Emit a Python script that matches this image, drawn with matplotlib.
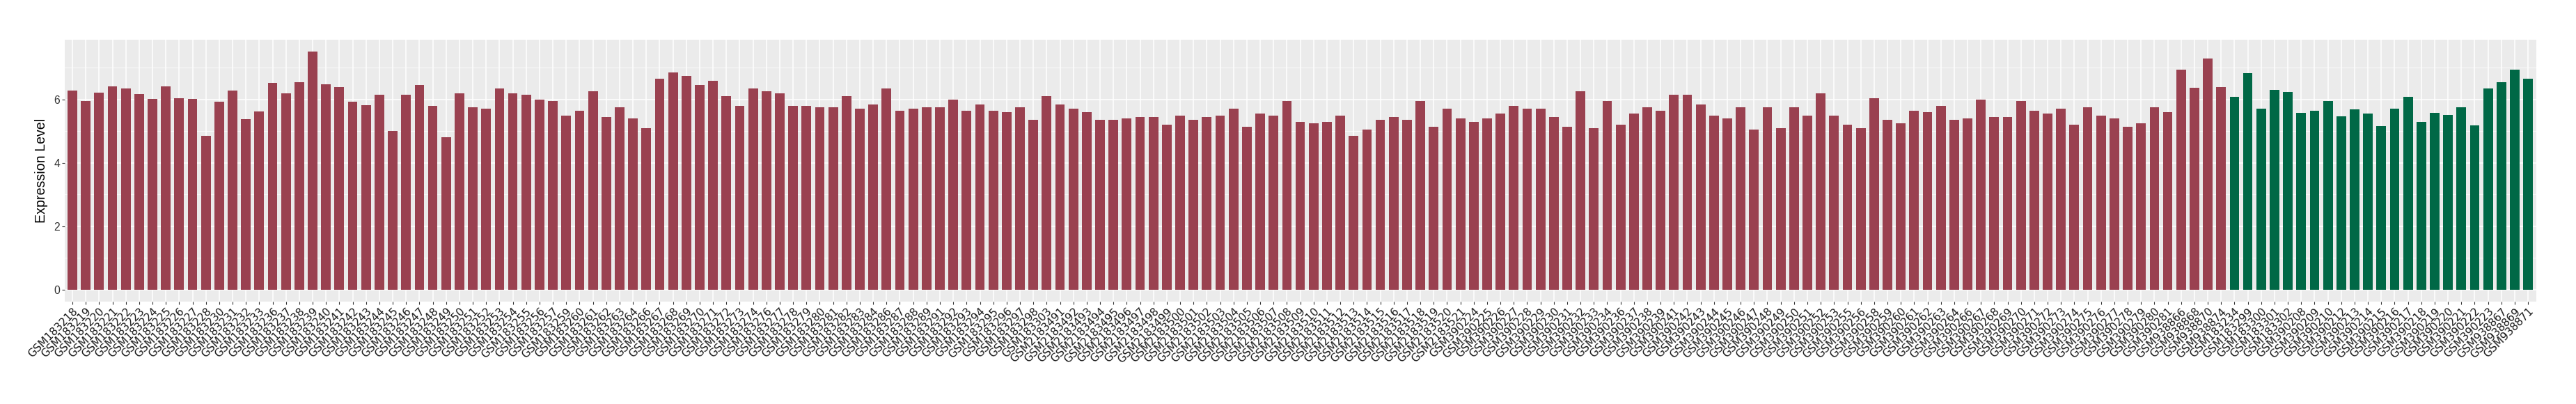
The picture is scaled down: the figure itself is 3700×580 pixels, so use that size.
import matplotlib
matplotlib.use("Agg")
import matplotlib.pyplot as plt
import numpy as np

# sample ids, sorted within each group
red_ids = (
    ["GSM1832%02d" % n for n in [18, 19, 20, 21, 22, 23, 24, 25, 26, 27, 28, 30, 31, 32, 33,
                                  36, 37, 38, 39, 40, 41, 42, 43, 44, 45, 46, 47, 48, 49, 50,
                                  51, 52, 53, 54, 55, 56, 57, 59, 60, 61, 62, 63, 64, 66, 67,
                                  68, 69, 70, 71, 72, 73, 74, 76, 77, 78, 79, 80, 81, 82, 83,
                                  84, 86, 87, 88, 89, 91, 92, 93, 94, 95, 96, 97, 98]]
    + ["GSM183303"]
    + ["GSM2183%d" % n for n in range(491, 522)]
    + ["GSM390%d" % n for n in [224, 225, 226, 227, 228, 229, 230, 231, 232, 233, 234, 236,
                                 237, 238, 239, 241, 242, 243, 244, 245, 246, 247, 248, 249,
                                 250, 251, 252, 253, 255, 256, 258, 259, 260, 261, 262, 263,
                                 264, 266, 267, 268, 269, 270, 271, 272, 273, 274, 275, 276,
                                 277, 278, 279, 280, 281]]
    + ["GSM938866", "GSM938868", "GSM938870", "GSM938874"]
)
green_ids = (
    ["GSM183234", "GSM183299", "GSM183300", "GSM183301", "GSM183302"]
    + ["GSM390%d" % n for n in [208, 209, 210, 212, 213, 214, 215, 216, 217, 218, 219, 220,
                                 221, 222, 223]]
    + ["GSM938867", "GSM938869", "GSM938871"]
)

red_values = [
    # GSM183218 .. GSM183303
    6.28, 5.95, 6.21, 6.41, 6.35, 6.17, 6.01, 6.41, 6.04, 6.01, 4.85, 5.93, 6.28, 5.38, 5.62,
    6.52, 6.19, 6.54, 7.51, 6.48, 6.39, 5.93, 5.82, 6.14, 5.01, 6.14, 6.45,
    5.80, 4.80, 6.20, 5.75, 5.70, 6.35, 6.20, 6.15, 6.00, 5.95,
    5.50, 5.65, 6.25, 5.45, 5.75, 5.40,
    5.10, 6.65, 6.85, 6.75, 6.45, 6.60, 6.10, 5.80, 6.35,
    6.25, 6.20, 5.80, 5.80, 5.75, 5.75, 6.10, 5.70, 5.85,
    6.35, 5.65, 5.70, 5.75,
    5.75, 6.00, 5.65, 5.85, 5.65, 5.60, 5.75, 5.35,
    6.10,
    # GSM2183491 .. GSM2183521
    5.85, 5.70, 5.60, 5.35, 5.35, 5.40, 5.45, 5.45, 5.20, 5.50, 5.35, 5.45, 5.50, 5.70, 5.15,
    5.55, 5.50, 5.95, 5.30, 5.25, 5.30, 5.50, 4.85, 5.05, 5.35, 5.45, 5.35, 5.95, 5.15, 5.70,
    5.40,
    # GSM390224 .. GSM390281
    5.30, 5.40, 5.55, 5.80, 5.70, 5.70, 5.45, 5.15, 6.25, 5.10, 5.95, 5.20, 5.55, 5.75, 5.65,
    6.15, 6.15, 5.85, 5.50, 5.40, 5.75, 5.05, 5.75, 5.10, 5.75, 5.50, 6.20, 5.50, 5.20, 5.10,
    6.05, 5.35, 5.25, 5.65, 5.60, 5.80, 5.35, 5.40, 6.00, 5.45, 5.45, 5.95, 5.65, 5.55, 5.70,
    5.20, 5.75, 5.50, 5.40, 5.15, 5.25, 5.75, 5.60,
    # GSM938866 .. GSM938874
    6.95, 6.37, 7.29, 6.39,
]
green_values = [
    6.08, 6.83, 5.71, 6.30, 6.24,
    5.58, 5.64, 5.95, 5.47, 5.69, 5.55, 5.16, 5.71, 6.08, 5.29, 5.58, 5.51, 5.76, 5.18, 6.35,
    6.54, 6.94, 6.66,
]

red_color = "#9A4150"
green_color = "#006846"

labels = red_ids + green_ids
values = red_values + green_values
colors = [red_color] * len(red_values) + [green_color] * len(green_values)
x = np.arange(len(labels))

fig = plt.figure(figsize=(37, 5.8), dpi=100)
ax = fig.add_axes([0.025, 0.2534, 0.9595, 0.6483])
ax.set_facecolor("#EBEBEB")

ax.bar(x, values, width=0.72, color=colors, zorder=3)

ax.set_xlim(-0.6, len(labels) - 0.4)
ymax = max(values)
ax.set_ylim(-0.05 * ymax, ymax * 1.05)

ax.set_yticks([0, 2, 4, 6])
ax.set_yticks([1, 3, 5, 7], minor=True)
ax.set_xticks(x)
ax.grid(True, which="major", color="white", linewidth=1.1, zorder=0)
ax.grid(True, which="minor", axis="y", color="white", linewidth=0.55, zorder=0)
ax.set_axisbelow(True)

ax.set_xticklabels(labels, rotation=45, ha="right", va="top", rotation_mode="anchor",
                   fontsize=11.2, family="DejaVu Sans", color="#1A1A1A")
for t in ax.get_yticklabels():
    t.set_family("Liberation Sans")
    t.set_fontsize(11.3)
    t.set_color("#333333")

ax.tick_params(axis="both", which="major", length=2.6, width=0.8, color="#333333", pad=2)
ax.tick_params(axis="y", which="minor", length=0)
for s in ax.spines.values():
    s.set_visible(False)

ax.set_ylabel("Expression Level", fontsize=14.1, family="Liberation Sans", labelpad=6)

fig.savefig("out.png", dpi=100)
